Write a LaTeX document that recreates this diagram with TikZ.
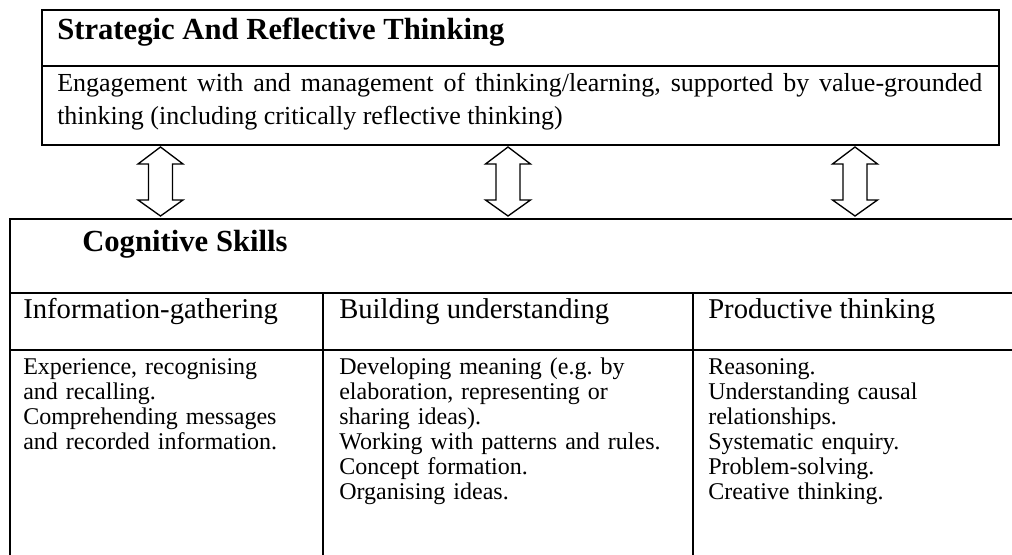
\documentclass[tikz,border=0pt]{standalone}
\usepackage{fontspec}
\setmainfont{Liberation Serif}
\frenchspacing
\begin{document}
\begin{tikzpicture}[x=0.75pt,y=-0.75pt,
  frame/.style={line width=1.6pt},
  titletext/.style={anchor=base west, inner sep=0, font=\fontsize{23}{27}\selectfont\bfseries},
  desctext/.style={anchor=base west, inner sep=0, font=\fontsize{19.5}{24.75}\selectfont},
  headtext/.style={anchor=base west, inner sep=0, font=\fontsize{21.5}{26}\selectfont},
  celltext/.style={anchor=base west, inner sep=0, text width=270pt, align=left, font=\fontsize{18}{18.75}\selectfont},
  dblarrow/.style={draw, line width=1pt, fill=white, line join=miter}]
\useasboundingbox (0,0) rectangle (1012,555);

% top box
\draw[frame] (42,10) rectangle (999,145);
\draw[frame] (42,66) -- (999,66);
\node[titletext] (title) at (57,40) {Strategic And Reflective Thinking};
\node[desctext] (d1) at (57,92) {\makebox[693.75pt][s]{Engagement with and management of thinking/learning, supported by value-grounded}};
\node[desctext] (d2) at (57,125) {thinking (including critically reflective thinking)};

% arrows
\foreach \c [count=\i] in {160.5,508,855}{
  \coordinate (up\i) at (\c,147);
  \coordinate (dn\i) at (\c,216);
  \draw[dblarrow] (up\i) -- ++(22.5,17) -- ++(-10.5,0) -- ++(0,36) -- ++(10.5,0) -- (dn\i)
     -- ++(-22.5,-16) -- ++(10.5,0) -- ++(0,-36) -- ++(-10.5,0) -- cycle;
}

% bottom table
\draw[frame] (1012,219) -- (10,219) -- (10,555);
\draw[frame] (10,293) -- (1012,293);
\draw[frame] (10,350) -- (1012,350);
\draw[frame] (323,293) -- (323,555);
\draw[frame] (693,293) -- (693,555);

\node[titletext] (cog) at (82,252) {Cognitive Skills};
\node[headtext] (h1) at (23,319) {Information-gathering};
\node[headtext] (h2) at (339,319) {Building understanding};
\node[headtext] (h3) at (708,319) {Productive thinking};

\node[celltext] (c1) at (23,374) {Experience, recognising\\and recalling.\\Comprehending messages\\and recorded information.};
\node[celltext] (c2) at (339,374) {Developing meaning (e.g. by\\elaboration, representing or\\sharing ideas).\\Working with patterns and rules.\\Concept formation.\\Organising ideas.};
\node[celltext] (c3) at (708,374) {Reasoning.\\Understanding causal\\relationships.\\Systematic enquiry.\\Problem-solving.\\Creative thinking.};
\end{tikzpicture}
\end{document}
